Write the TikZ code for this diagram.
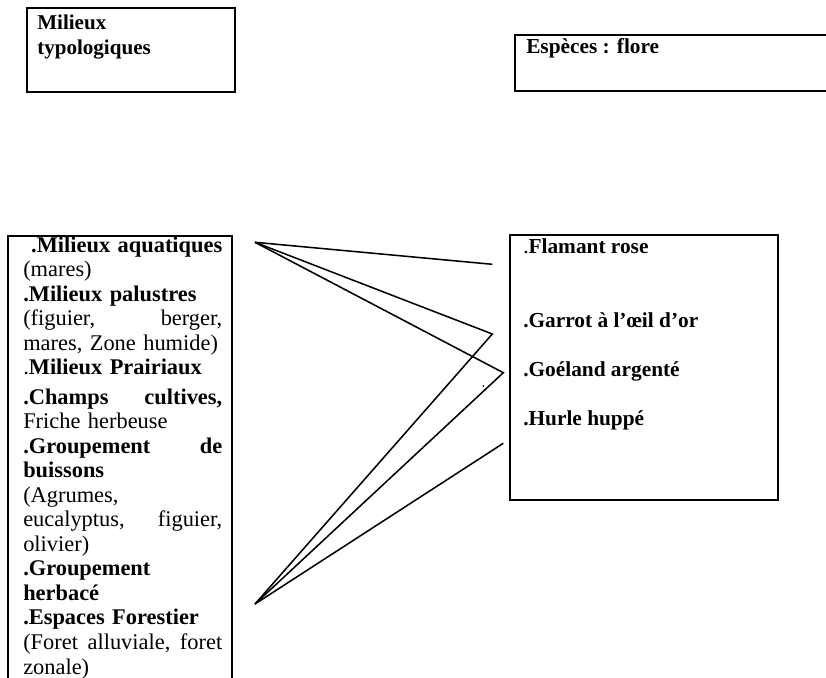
\documentclass[tikz,border=0pt]{standalone}
\usepackage{fontspec}
\setmainfont{Liberation Serif}
\begin{document}
\begin{tikzpicture}[x=0.75pt,y=-0.75pt,
  frame/.style={line width=1.5pt, draw=black},
  link/.style={line width=1.15pt, draw=black, line join=miter},
  txt/.style={inner sep=0pt, anchor=base west, font=\fontsize{16}{19}\selectfont},
  titletxt/.style={inner sep=0pt, anchor=base west, font=\fontsize{15.8}{19}\selectfont\bfseries},
  listtxt/.style={inner sep=0pt, anchor=base west, text width=149.25pt, align=left,
    font=\fontsize{16.8}{18.4}\selectfont}]
\useasboundingbox (0,0) rectangle (826,678);
\clip (0,0) rectangle (826,678);

% frames
\draw[frame] (27,8) rectangle (235,92);
\draw[frame] (515,35) rectangle (840,91);
\draw[frame] (8,236) rectangle (232,700);
\draw[frame] (510,235) rectangle (778,500);

% headings
\node[titletxt] (milieux) at (37,29) {Milieux};
\node[titletxt] (typo) at (37,55) {typologiques};
\node[txt] (especes) at (526,53) {\textbf{Espèces : flore}};

% habitat list
\node[listtxt] (habitats) at (23,252) {%
\hspace*{\fill}\textbf{.Milieux aquatiques}\\
(mares)\\
\textbf{.Milieux palustres}\\
(figuier,\hfill berger,\\
mares, Zone humide)\\
.\textbf{Milieux Prairiaux}\\[3.75pt]
\textbf{.Champs\hfill cultives,}\\
Friche herbeuse\\
\textbf{.Groupement\hfill de}\\
\textbf{buissons}\\
(Agrumes,\\
eucalyptus,\hfill figuier,\\
olivier)\\
\textbf{.Groupement}\\
\textbf{herbacé}\\
\textbf{.Espaces Forestier}\\
(Foret\hfill alluviale,\hfill foret\\
zonale)};

% species list
\node[txt] (flamant) at (523,253) {.\textbf{Flamant rose}};
\node[txt] (garrot) at (523,327) {\textbf{.Garrot à l’œil d’or}};
\node[txt] (goeland) at (523,376) {\textbf{.Goéland argenté}};
\node[txt] (hurle) at (523,425) {\textbf{.Hurle huppé}};

% connector points
\coordinate (apexA) at (255,242.3);
\coordinate (apexB) at (255,604);
\coordinate (endFlamant) at (492.3,264.3);
\coordinate (vGarrot) at (492.3,334);
\coordinate (vGoeland) at (503.3,372.7);
\coordinate (endHurle) at (503.3,443.3);

\draw[link] (apexA) -- (endFlamant);
\draw[link] (apexA) -- (vGarrot) -- (apexB);
\draw[link] (apexA) -- (vGoeland) -- (apexB);
\draw[link] (apexB) -- (endHurle);

% stray mark
\fill (483.3,386) circle (0.9);
\end{tikzpicture}
\end{document}
